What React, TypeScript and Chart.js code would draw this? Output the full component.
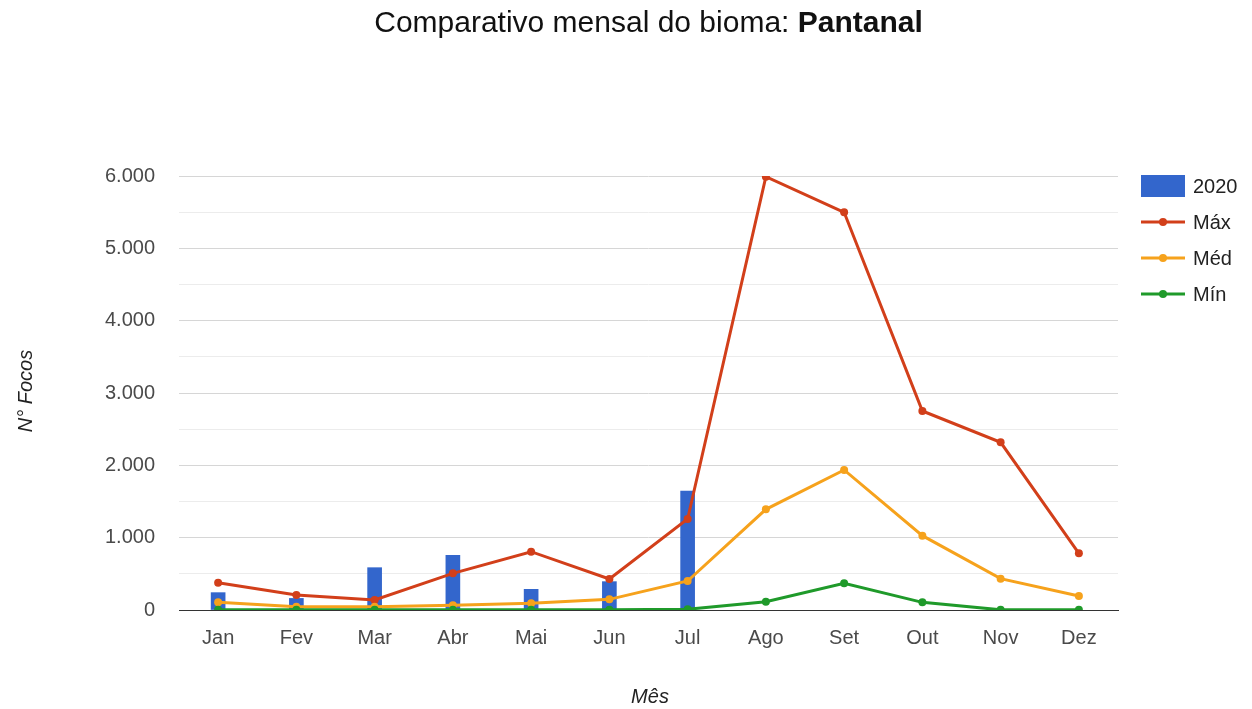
import React, { useEffect, useRef } from "react";
import { Chart, registerables } from "chart.js";

Chart.register(...registerables);

const months = ["Jan", "Fev", "Mar", "Abr", "Mai", "Jun", "Jul", "Ago", "Set", "Out", "Nov", "Dez"];
const values2020: (number | null)[] = [240, 160, 585, 756, 286, 392, 1645, null, null, null, null, null];
const valuesMax = [378, 207, 138, 507, 806, 429, 1258, 5990, 5498, 2751, 2318, 784];
const valuesMed = [106, 46, 45, 65, 92, 147, 401, 1392, 1936, 1028, 433, 194];
const valuesMin = [5, 3, 2, 3, 3, 5, 10, 115, 369, 106, 3, 3];
const yMax = 6000;
const yStep = 500;

const COLORS = {
  bar: "#3366cc",
  max: "#d23f1a",
  med: "#f6a21c",
  min: "#1f9a2a",
};

const FONT = "'Liberation Sans', Arial, sans-serif";

function fmt(v: number): string {
  return String(v).replace(/\B(?=(\d{3})+(?!\d))/g, ".");
}

const textPlugin = {
  id: "customText",
  afterDraw(chart: any) {
    const ctx = chart.ctx as CanvasRenderingContext2D;
    ctx.save();
    // Title
    const part1 = "Comparativo mensal do bioma: ";
    const part2 = "Pantanal";
    ctx.textBaseline = "middle";
    ctx.fillStyle = "#111";
    ctx.font = `30px ${FONT}`;
    const w1 = ctx.measureText(part1).width;
    ctx.font = `bold 30px ${FONT}`;
    const w2 = ctx.measureText(part2).width;
    const startX = 648.5 - (w1 + w2) / 2;
    ctx.font = `30px ${FONT}`;
    ctx.textAlign = "left";
    ctx.fillText(part1, startX, 24);
    ctx.font = `bold 30px ${FONT}`;
    ctx.fillText(part2, startX + w1, 24);

    // Axis titles
    ctx.fillStyle = "#222";
    ctx.font = `italic 20px ${FONT}`;
    ctx.textAlign = "center";
    ctx.fillText("Mês", 650, 697);
    ctx.save();
    ctx.translate(26, 391);
    ctx.rotate(-Math.PI / 2);
    ctx.fillText("N° Focos", 0, 0);
    ctx.restore();

    // Legend
    const lx = 1141;
    const lw = 44;
    const tx = 1193;
    ctx.font = `20px ${FONT}`;
    ctx.textAlign = "left";
    ctx.fillStyle = COLORS.bar;
    ctx.fillRect(lx, 175, lw, 22);
    ctx.fillStyle = "#222";
    ctx.fillText("2020", tx, 187);
    const items = [
      { label: "Máx", color: COLORS.max, y: 222 },
      { label: "Méd", color: COLORS.med, y: 258 },
      { label: "Mín", color: COLORS.min, y: 294 },
    ];
    for (const it of items) {
      ctx.strokeStyle = it.color;
      ctx.lineWidth = 3;
      ctx.beginPath();
      ctx.moveTo(lx, it.y);
      ctx.lineTo(lx + lw, it.y);
      ctx.stroke();
      ctx.fillStyle = it.color;
      ctx.beginPath();
      ctx.arc(lx + lw / 2, it.y, 4, 0, Math.PI * 2);
      ctx.fill();
      ctx.fillStyle = "#222";
      ctx.fillText(it.label, tx, it.y + 1);
    }
    ctx.restore();
  },
};

export default function App() {
  const ref = useRef<HTMLCanvasElement | null>(null);

  useEffect(() => {
    if (!ref.current) return;
    const lineDs = (label: string, data: number[], color: string, order: number) => ({
      type: "line" as const,
      label,
      data,
      borderColor: color,
      backgroundColor: color,
      borderWidth: 3,
      pointRadius: 4,
      pointBorderWidth: 0,
      pointBackgroundColor: color,
      tension: 0,
      order,
    });
    const chart = new Chart(ref.current, {
      type: "bar",
      data: {
        labels: months,
        datasets: [
          {
            type: "bar" as const,
            label: "2020",
            data: values2020,
            backgroundColor: COLORS.bar,
            barThickness: 14,
            order: 4,
          } as any,
          lineDs("Máx", valuesMax, COLORS.max, 3),
          lineDs("Méd", valuesMed, COLORS.med, 2),
          lineDs("Mín", valuesMin, COLORS.min, 1),
        ],
      },
      options: {
        animation: false,
        responsive: false,
        maintainAspectRatio: false,
        layout: { padding: { left: 0, right: 134, top: 176, bottom: 0 } },
        plugins: {
          legend: { display: false },
          title: { display: false },
          tooltip: { enabled: false },
        },
        scales: {
          x: {
            offset: true,
            grid: { display: false, drawTicks: false },
            border: { display: true, color: "#333", width: 1 },
            ticks: {
              color: "#4a4a4a",
              font: { family: FONT, size: 20 },
              padding: 16,
              maxRotation: 0,
              autoSkip: false,
            },
            afterFit: (s: any) => {
              s.height = 99;
            },
          },
          y: {
            min: 0,
            max: yMax,
            border: { display: false },
            grid: {
              drawTicks: false,
              color: (c: any) => {
                const v = c.tick ? c.tick.value : 1;
                if (v === 0) return "#333";
                return v % 1000 === 0 ? "#d6d6d6" : "#ececec";
              },
              lineWidth: 1,
            },
            ticks: {
              stepSize: yStep,
              color: "#4a4a4a",
              font: { family: FONT, size: 20 },
              padding: 24,
              callback: (v: any) => (Number(v) % 1000 === 0 ? fmt(Number(v)) : ""),
            },
            afterFit: (s: any) => {
              s.width = 179;
            },
          },
        },
      },
      plugins: [textPlugin],
    });
    return () => chart.destroy();
  }, []);

  return (
    <div style={{ position: "absolute", left: 0, top: 0, width: 1252, height: 709, background: "#fff" }}>
      <canvas ref={ref} width={1252} height={709} style={{ display: "block", width: 1252, height: 709 }} />
    </div>
  );
}
